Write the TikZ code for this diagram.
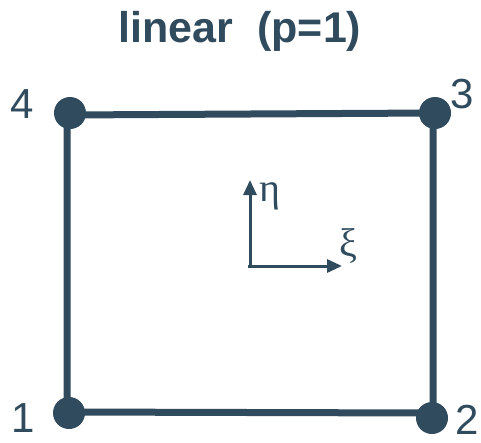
\documentclass[tikz,border=0pt]{standalone}
\usepackage{fontspec}
\setmainfont{Liberation Sans}
\newfontfamily\grk{Liberation Serif}
\usetikzlibrary{arrows.meta}
\definecolor{slate}{HTML}{2F4B5D}
\begin{document}
\begin{tikzpicture}[x=1pt,y=-1pt,
  vert/.style={circle,fill=slate,inner sep=0pt,minimum size=32pt},
  edge/.style={draw=slate,line width=7pt},
  num/.style={text=slate,font=\fontsize{42}{42}\selectfont,inner sep=0pt},
  axis/.style={draw=slate,line width=3pt,-{Triangle[length=15pt,width=13pt]}},
  glabel/.style={text=slate,font=\grk\fontsize{40}{40}\selectfont,inner sep=0pt}]
\useasboundingbox (0,0) rectangle (481,442);
\node[text=slate,font=\bfseries\fontsize{43}{43}\selectfont,inner sep=0pt] (title) at (240,31) {linear\ \ (p=1)};
\coordinate (c1) at (67,412);
\coordinate (c2) at (433,413);
\coordinate (c3) at (433,113);
\coordinate (c4) at (67,115);
\draw[edge] (c1) -- (c2) -- (c3) -- (c4) -- cycle;
\node[vert] (n1) at (69,413) {};
\node[vert] (n2) at (432,418) {};
\node[vert] (n3) at (435,113) {};
\node[vert] (n4) at (70,113) {};
\node[num] (l1) at (23,418) {1};
\node[num] (l2) at (467,420) {2};
\node[num] (l3) at (462,94) {3};
\node[num] (l4) at (22,104) {4};
\coordinate (o) at (248,266);
\coordinate (ey) at (250,180);
\coordinate (ex) at (342,266);
\draw[axis] (o) -- (ex);
\draw[axis] ([xshift=2pt]o) -- (ey);
\node[glabel] (eta) at (270,196) {η};
\node[glabel] (xi) at (348,246) {ξ};
\end{tikzpicture}
\end{document}
